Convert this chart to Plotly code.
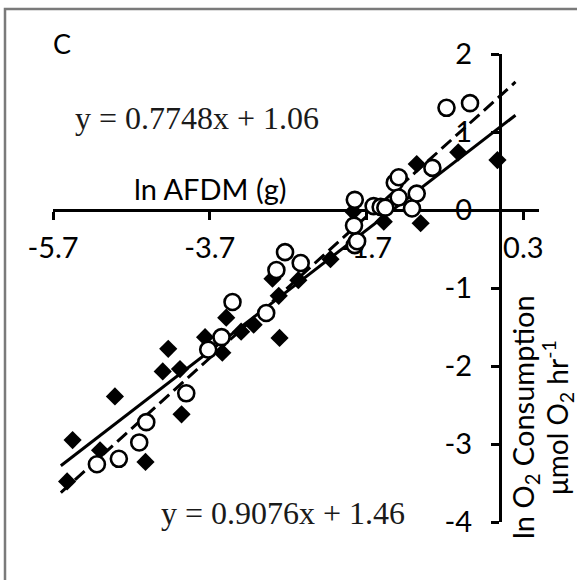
import plotly.graph_objects as go

# ---- data ----
diamond_x = [-5.52, -5.45, -5.10, -4.91, -4.52, -4.30, -4.23, -4.08, -4.06, -3.76, -3.54, -3.49,
             -3.30, -3.14, -2.81, -2.82, -2.90, -2.57, -2.16, -1.87, -1.48, -1.01, -1.06, -0.53, -0.03]
diamond_y = [-3.48, -2.95, -3.08, -2.39, -3.23, -2.07, -1.78, -2.04, -2.62, -1.63, -1.83, -1.38,
             -1.56, -1.47, -1.64, -1.10, -0.88, -0.90, -0.63, -0.02, -0.15, -0.17, 0.59, 0.74, 0.64]

circle_x = [-5.14, -4.86, -4.60, -4.51, -4.00, -3.72, -3.55, -3.41, -2.98, -2.85, -2.74, -2.54,
            -1.85, -1.82, -1.86, -1.85, -1.61, -1.52, -1.46, -1.34, -1.29, -1.29, -1.06, -1.12,
            -0.86, -0.68, -0.38]
circle_y = [-3.26, -3.19, -2.98, -2.72, -2.35, -1.79, -1.63, -1.18, -1.32, -0.77, -0.54, -0.68,
            -0.45, -0.40, -0.20, 0.13, 0.05, 0.04, 0.03, 0.35, 0.42, 0.16, 0.21, 0.02,
            0.54, 1.31, 1.37]

# trendline coefficients (from equations in the chart)
solid_slope, solid_intercept = 0.7748, 1.06
dash_slope, dash_intercept = 0.9076, 1.46
fit_x = [-5.6, 0.2]

x_tickvals = [-5.7, -3.7, -1.7, 0.3]
x_ticktext = ["-5.7", "-3.7", "-1.7", "0.3"]
y_tickvals = [-4, -3, -2, -1, 0, 1, 2]
y_ticktext = ["-4", "-3", "-2", "-1", "0", "1", "2"]

X_RANGE = [-5.7, 0.5]
Y_RANGE = [-4, 2]

SANS = "Lato, 'Open Sans', sans-serif"
SERIF = "'Liberation Serif', 'DejaVu Serif', serif"

fig = go.Figure()

fig.add_trace(go.Scatter(
    x=fit_x, y=[solid_slope * v + solid_intercept for v in fit_x],
    mode="lines", line=dict(color="black", width=3), showlegend=False, hoverinfo="skip"))
fig.add_trace(go.Scatter(
    x=fit_x, y=[dash_slope * v + dash_intercept for v in fit_x],
    mode="lines", line=dict(color="black", width=3, dash="13px,6px"), showlegend=False,
    hoverinfo="skip"))

fig.add_trace(go.Scatter(
    x=diamond_x, y=diamond_y, mode="markers",
    marker=dict(symbol="diamond", size=14, color="black", line=dict(width=0)),
    showlegend=False))
fig.add_trace(go.Scatter(
    x=circle_x, y=circle_y, mode="markers",
    marker=dict(symbol="circle", size=16, color="white", line=dict(color="black", width=2.6)),
    showlegend=False))

W, H = 577, 580
ML, MR, MT, MB = 53, 38, 54, 58
PW, PH = W - ML - MR, H - MT - MB


def px_to_paper_x(px):
    return (px - ML) / PW


def px_to_paper_y(py):
    return (H - MB - py) / PH


fig.update_layout(
    width=W, height=H, autosize=False,
    margin=dict(l=ML, r=MR, t=MT, b=MB, pad=0),
    paper_bgcolor="white", plot_bgcolor="white",
    showlegend=False,
    xaxis=dict(
        range=X_RANGE, anchor="free",
        position=(0 - Y_RANGE[0]) / (Y_RANGE[1] - Y_RANGE[0]),
        showgrid=False, zeroline=False,
        showline=True, linecolor="black", linewidth=3,
        ticks="outside", ticklen=8, tickwidth=3, tickcolor="black",
        tickvals=x_tickvals, ticktext=x_ticktext,
        tickfont=dict(family=SANS, size=29, color="black"),
        ticklabelstandoff=3,
        layer="below traces",
    ),
    yaxis=dict(
        range=Y_RANGE, anchor="free",
        position=(0 - X_RANGE[0]) / (X_RANGE[1] - X_RANGE[0]),
        side="left",
        showgrid=False, zeroline=False,
        showline=True, linecolor="black", linewidth=3,
        ticks="outside", ticklen=8, tickwidth=3, tickcolor="black",
        tickvals=y_tickvals, ticktext=y_ticktext,
        tickfont=dict(family=SANS, size=29, color="black"),
        ticklabelstandoff=13,
        layer="below traces",
    ),
    shapes=[dict(
        type="rect", xref="paper", yref="paper",
        x0=px_to_paper_x(5), x1=px_to_paper_x(W + 20),
        y0=px_to_paper_y(H + 20), y1=px_to_paper_y(9),
        line=dict(color="#7a7a7a", width=2.5), fillcolor="rgba(0,0,0,0)", layer="below")],
    annotations=[
        dict(text="C", xref="paper", yref="paper", x=px_to_paper_x(62), y=px_to_paper_y(43),
             showarrow=False, font=dict(family=SANS, size=27, color="black"),
             xanchor="center", yanchor="middle"),
        dict(text="y = 0.7748x + 1.06", xref="paper", yref="paper",
             x=px_to_paper_x(197), y=px_to_paper_y(118), showarrow=False,
             font=dict(family=SERIF, size=32, color="#1a1a1a"), xanchor="center", yanchor="middle"),
        dict(text="y = 0.9076x + 1.46", xref="paper", yref="paper",
             x=px_to_paper_x(283), y=px_to_paper_y(513), showarrow=False,
             font=dict(family=SERIF, size=32, color="#1a1a1a"), xanchor="center", yanchor="middle"),
        dict(text="ln AFDM (g)", xref="paper", yref="paper",
             x=px_to_paper_x(210), y=px_to_paper_y(188), showarrow=False,
             font=dict(family=SANS, size=29, color="black"), xanchor="center", yanchor="middle"),
        dict(text="ln O<sub>2</sub> Consumption",
             xref="paper", yref="paper",
             x=px_to_paper_x(524), y=px_to_paper_y(417), showarrow=False, textangle=-90,
             font=dict(family=SANS, size=29, color="black"), xanchor="center", yanchor="middle"),
        dict(text="μmol O<sub>2</sub> hr<sup>-1</sup>",
             xref="paper", yref="paper",
             x=px_to_paper_x(557), y=px_to_paper_y(418), showarrow=False, textangle=-90,
             font=dict(family=SANS, size=28, color="black"), xanchor="center", yanchor="middle"),
    ],
)

fig.write_html("out.html", config={"displayModeBar": False},
               post_script="document.body.style.margin='0';document.body.style.overflow='hidden';")
